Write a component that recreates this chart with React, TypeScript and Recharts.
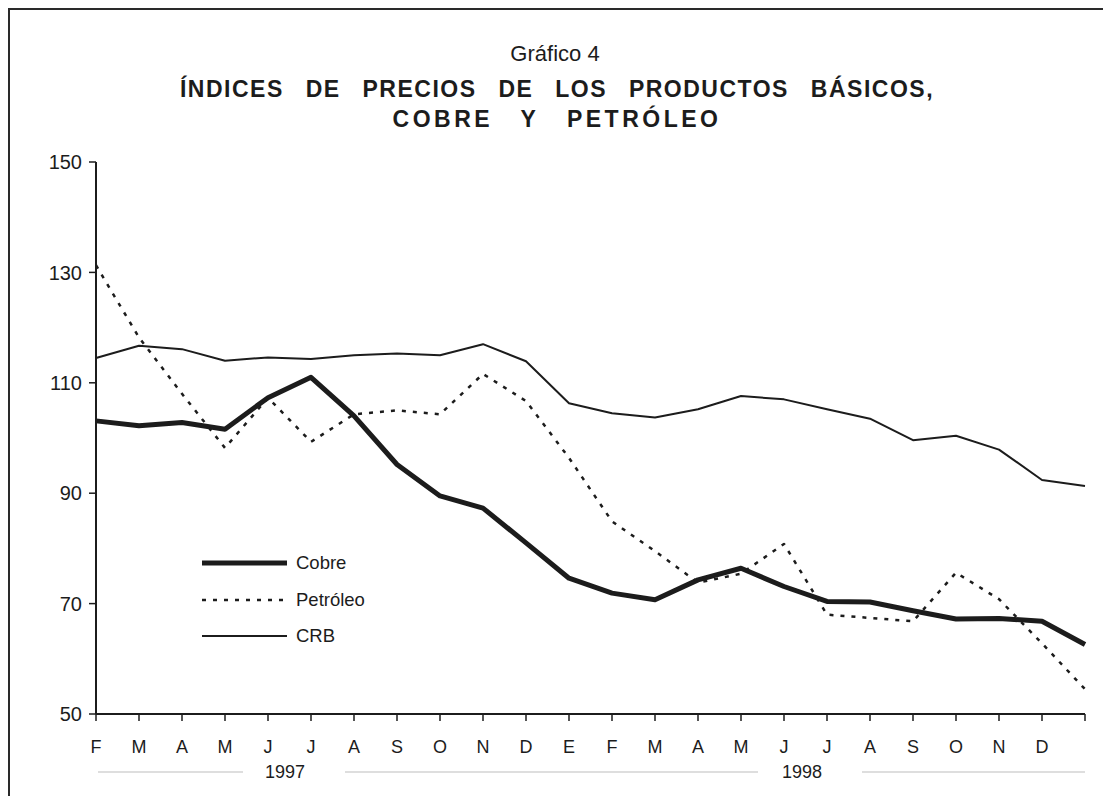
import { Line, LineChart, XAxis, YAxis } from "recharts";

const meses = ["F", "M", "A", "M", "J", "J", "A", "S", "O", "N", "D", "E", "F", "M", "A", "M", "J", "J", "A", "S", "O", "N", "D", ""];
const cobre = [103.1, 102.2, 102.8, 101.6, 107.3, 111.0, 104.0, 95.2, 89.5, 87.3, 81.0, 74.6, 71.9, 70.7, 74.3, 76.4, 73.1, 70.4, 70.3, 68.7, 67.2, 67.3, 66.8, 62.6];
const petroleo = [131.3, 118.2, 108.0, 98.2, 107.3, 99.3, 104.3, 105.0, 104.3, 111.6, 106.7, 96.4, 84.9, 79.5, 73.8, 75.4, 80.8, 68.0, 67.4, 66.8, 75.6, 70.8, 62.8, 54.5];
const crb = [114.5, 116.7, 116.1, 114.0, 114.6, 114.3, 115.0, 115.3, 115.0, 117.0, 113.9, 106.3, 104.5, 103.7, 105.2, 107.6, 107.0, 105.2, 103.5, 99.6, 100.4, 97.9, 92.4, 91.3];
const yTicks = [50, 70, 90, 110, 130, 150];

const data = meses.map((m, i) => ({ i, mes: m, cobre: cobre[i], petroleo: petroleo[i], crb: crb[i] }));
const xTicks = meses.map((_, i) => i);

const INK = "#1c1c1c";
const FONT = '"Liberation Sans", Arial, sans-serif';

const series = [
  { key: "cobre", name: "Cobre", width: 5, dash: undefined },
  { key: "petroleo", name: "Petróleo", width: 2.5, dash: "4 7" },
  { key: "crb", name: "CRB", width: 2, dash: undefined },
];

// leyenda propia: la de recharts le quita alto al área del gráfico
function LegendBox() {
  return (
    <div style={{ position: "absolute", left: 194, top: 537, fontFamily: FONT, fontSize: 18.5, color: INK }}>
      {series.map((s) => (
        <div key={s.key} style={{ display: "flex", alignItems: "center", height: 36.5 }}>
          <svg width={86} height={10} style={{ marginRight: 8 }}>
            <line x1={0} y1={5} x2={85} y2={5} stroke={INK} strokeWidth={s.width} strokeDasharray={s.dash} />
          </svg>
          <span>{s.name}</span>
        </div>
      ))}
    </div>
  );
}

export default function App() {
  return (
    <div style={{ position: "relative", width: 1100, height: 788, fontFamily: FONT }}>
      <div
        style={{
          position: "absolute",
          left: 0,
          top: 0,
          width: 1100,
          height: 800,
          boxSizing: "border-box",
          border: "2px solid #2a2a2a",
          borderBottom: "none",
        }}
      />
      <LineChart width={1100} height={788} data={data} margin={{ top: 154, right: 23, bottom: 52, left: 28 }}>
        <XAxis
          type="number"
          dataKey="i"
          domain={[0, 23]}
          ticks={xTicks}
          interval={0}
          tickFormatter={(v: number) => meses[v]}
          tickSize={7}
          tickMargin={19}
          height={30}
          axisLine={{ stroke: INK, strokeWidth: 2 }}
          tickLine={{ stroke: INK, strokeWidth: 1.5 }}
          tick={{ fill: INK, fontSize: 18, fontFamily: FONT }}
        />
        <YAxis
          domain={[50, 150]}
          ticks={yTicks}
          interval={0}
          width={60}
          tickSize={7}
          tickMargin={7}
          axisLine={{ stroke: INK, strokeWidth: 2 }}
          tickLine={{ stroke: INK, strokeWidth: 1.5 }}
          tick={{ fill: INK, fontSize: 20, fontFamily: FONT }}
        />
        {series.map((s) => (
          <Line
            key={s.key}
            type="linear"
            dataKey={s.key}
            name={s.name}
            stroke={INK}
            strokeWidth={s.width}
            strokeDasharray={s.dash}
            strokeLinejoin="round"
            dot={false}
            activeDot={false}
            isAnimationActive={false}
          />
        ))}
      </LineChart>
      <LegendBox />
      <svg width={1100} height={788} style={{ position: "absolute", left: 0, top: 0, pointerEvents: "none" }}>
        <g fontFamily={FONT} fill={INK} textAnchor="middle">
          <text x={547} y={53} fontSize={22}>Gráfico 4</text>
          <text x={549} y={89} fontSize={23} fontWeight="bold" wordSpacing={14} letterSpacing={1.5}>
            ÍNDICES DE PRECIOS DE LOS PRODUCTOS BÁSICOS,
          </text>
          <text x={549} y={119} fontSize={23} fontWeight="bold" wordSpacing={18} letterSpacing={3.5}>
            COBRE Y PETRÓLEO
          </text>
          <text x={277} y={770} fontSize={18}>1997</text>
          <text x={794} y={770} fontSize={18}>1998</text>
        </g>
        <g stroke="#bdbdbd" strokeWidth={1}>
          <line x1={90} y1={764} x2={235} y2={764} />
          <line x1={337} y1={764} x2={750} y2={764} />
          <line x1={854} y1={764} x2={1077} y2={764} />
        </g>
      </svg>
    </div>
  );
}
